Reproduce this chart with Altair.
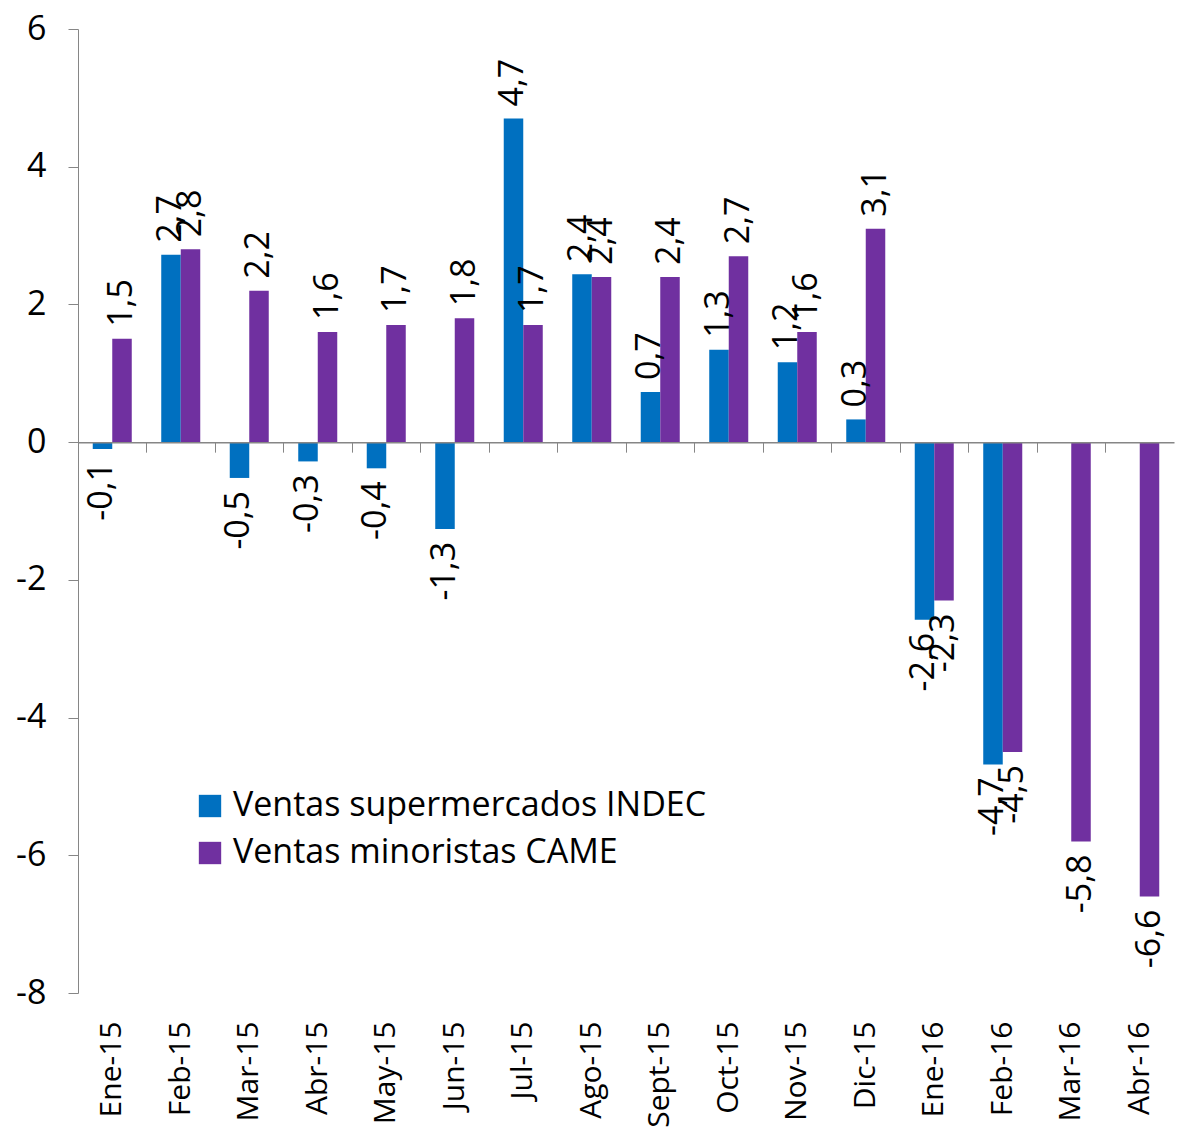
import altair as alt
import pandas as pd

months = ["Ene-15", "Feb-15", "Mar-15", "Abr-15", "May-15", "Jun-15", "Jul-15", "Ago-15",
          "Sept-15", "Oct-15", "Nov-15", "Dic-15", "Ene-16", "Feb-16", "Mar-16", "Abr-16"]
indec = [-0.1, 2.72, -0.52, -0.28, -0.38, -1.26, 4.7, 2.44, 0.73, 1.34, 1.16, 0.33,
         -2.58, -4.68, None, None]
came = [1.5, 2.8, 2.2, 1.6, 1.7, 1.8, 1.7, 2.4, 2.4, 2.7, 1.6, 3.1, -2.3, -4.5, -5.8, -6.6]
series = ["Ventas supermercados INDEC", "Ventas minoristas CAME"]
colors = ["#0070C0", "#7030A0"]
y_ticks = [-8, -6, -4, -2, 0, 2, 4, 6]

rows = []
for m, a, b in zip(months, indec, came):
    if a is not None:
        rows.append({"mes": m, "serie": series[0], "v": a})
    if b is not None:
        rows.append({"mes": m, "serie": series[1], "v": b})
df = pd.DataFrame(rows)

FONT = "Open Sans"
W, H = 1096, 964
ymin, ymax = -8, 6
zero_offset = -(H - (ymax - 0) / (ymax - ymin) * H)

yaxis = alt.Axis(values=y_ticks, grid=False, title=None, domainColor="#868686",
                 tickColor="#868686", tickSize=10, labelFontSize=34, labelFont=FONT,
                 labelColor="black", labelPadding=22,
                 labelExpr="replace(datum.label, '\u2212', '-')")
yenc = alt.Y("v:Q", scale=alt.Scale(domain=[ymin, ymax], nice=False, zero=False), axis=yaxis)
xscale = alt.Scale(domain=months, paddingInner=0, paddingOuter=0)
xo = alt.XOffset("serie:N", scale=alt.Scale(domain=series, paddingInner=0, paddingOuter=0.756))

base = alt.Chart(df)

bars = base.mark_bar().encode(
    x=alt.X("mes:N", scale=xscale, axis=alt.Axis(orient="bottom", title=None, domain=False,
                                                  ticks=False, labelAngle=270, labelFontSize=30,
                                                  labelFont=FONT, labelColor="black",
                                                  labelPadding=28, grid=False)),
    xOffset=xo,
    y=yenc,
    color=alt.Color("serie:N", scale=alt.Scale(domain=series, range=colors),
                    legend=alt.Legend(orient="none", legendX=115, legendY=760, title=None,
                                      symbolType="square", symbolSize=500, symbolStrokeWidth=0,
                                      labelFontSize=34, labelFont=FONT, labelColor="black",
                                      rowPadding=13, labelOffset=6, labelLimit=800)),
)

lbl = "replace(replace(format(datum.v, '.1f'), '.', ','), '\u2212', '-')"

pos = base.transform_filter(alt.datum.v >= 0).transform_calculate(lbl=lbl).mark_text(
    angle=270, align="left", baseline="middle", dx=12, font=FONT, fontSize=34, color="black"
).encode(
    x=alt.X("mes:N", scale=xscale, axis=alt.Axis(orient="bottom", title=None, labels=False,
                                                  domain=True, domainColor="#868686",
                                                  domainWidth=1.5, ticks=True, tickSize=10,
                                                  tickColor="#868686", bandPosition=0,
                                                  offset=zero_offset, grid=False, zindex=1)),
    xOffset=xo,
    y=yenc,
    text="lbl:N",
)

neg = base.transform_filter(alt.datum.v < 0).transform_calculate(lbl=lbl).mark_text(
    angle=270, align="right", baseline="middle", dx=-13, font=FONT, fontSize=34, color="black"
).encode(
    x=alt.X("mes:N", scale=xscale, axis=None),
    xOffset=xo,
    y=yenc,
    text="lbl:N",
)

chart = alt.layer(bars, pos, neg).resolve_axis(x="independent").properties(
    width=W, height=H,
    autosize=alt.AutoSizeParams(type="none"),
    padding={"left": 70, "top": 21, "right": 1, "bottom": 138},
    background="white",
).configure_view(stroke=None)

chart.save("out.html", embed_options={"renderer": "svg", "actions": False})
